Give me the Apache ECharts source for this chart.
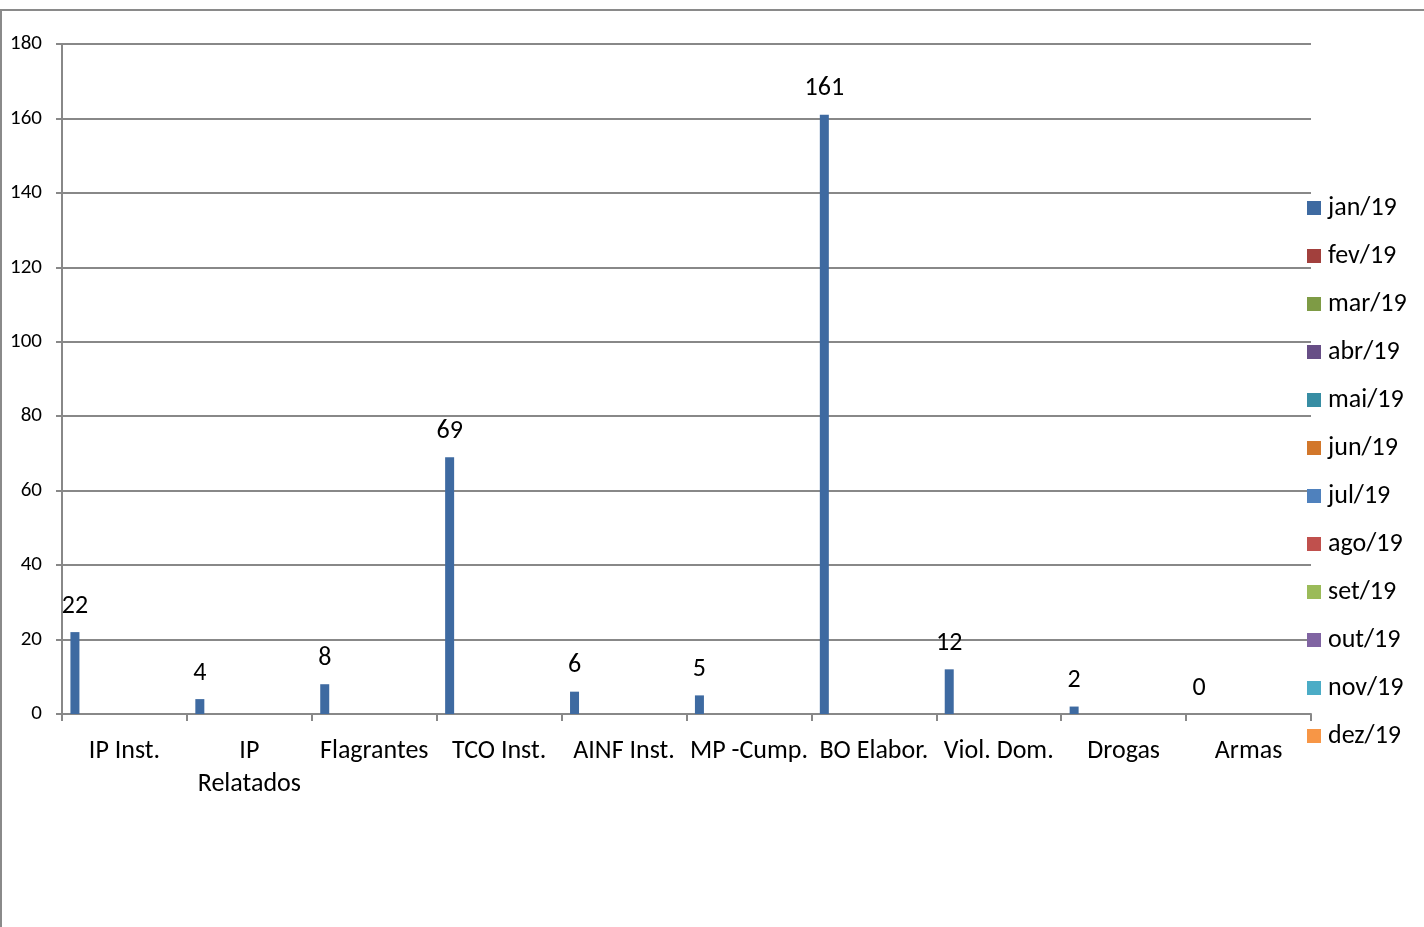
<!DOCTYPE html>
<html>
<head>
<meta charset="utf-8">
<script src="https://cdn.jsdelivr.net/npm/echarts@6/dist/echarts.min.js"></script>
<style>
html,body{margin:0;padding:0;background:#fff;}
#c{width:1424px;height:927px;}
</style>
</head>
<body>
<div id="c"></div>
<script>
const categories = ['IP Inst.', 'IP\nRelatados', 'Flagrantes', 'TCO Inst.', 'AINF Inst.', 'MP -Cump.', 'BO Elabor.', 'Viol. Dom.', 'Drogas', 'Armas'];
const seriesNames = ['jan/19', 'fev/19', 'mar/19', 'abr/19', 'mai/19', 'jun/19', 'jul/19', 'ago/19', 'set/19', 'out/19', 'nov/19', 'dez/19'];
const jan19 = [22, 4, 8, 69, 6, 5, 161, 12, 2, 0];
const emptySeries = [null, null, null, null, null, null, null, null, null, null];
const yTicks = [0, 20, 40, 60, 80, 100, 120, 140, 160, 180];
const colors = ['#3E6AA1', '#A2403D', '#7E9B45', '#674E86', '#378DA3', '#D2772B',
                '#4F81BD', '#C0504D', '#9BBB59', '#8064A2', '#4BACC6', '#F79646'];

const font = 'Carlito, Lato, "Open Sans", sans-serif';
const chart = echarts.init(document.getElementById('c'), null, {renderer: 'canvas'});

const series = seriesNames.map((name, i) => ({
  name: name,
  type: 'bar',
  data: i === 0 ? jan19 : emptySeries,
  barGap: 0,
  barCategoryGap: '13.5%',
  itemStyle: {color: colors[i]},
  label: i === 0 ? {
    show: true, position: 'top', distance: 13,
    color: '#000', fontSize: 26, fontFamily: font
  } : {show: false}
}));

chart.setOption({
  animation: false,
  color: colors,
  graphic: [{
    type: 'rect', shape: {x: 1, y: 10, width: 1500, height: 1000},
    style: {fill: 'none', stroke: '#8a8a8a', lineWidth: 2}, z: -1
  }],
  grid: {left: 62, right: 113, top: 44, bottom: 213, containLabel: false},
  legend: {
    orient: 'vertical', left: 1302, top: 190,
    itemWidth: 14, itemHeight: 14, itemGap: 22, icon: 'rect',
    textStyle: {fontSize: 26, lineHeight: 26, fontFamily: font, color: '#000', padding: [0, 0, 0, 2]},
    data: seriesNames
  },
  xAxis: {
    type: 'category', data: categories,
    axisLine: {lineStyle: {color: '#888', width: 2}},
    axisTick: {show: true, length: 7, lineStyle: {color: '#888', width: 2}},
    axisLabel: {fontSize: 26, fontFamily: font, color: '#000', margin: 21, interval: 0, lineHeight: 33}
  },
  yAxis: {
    type: 'value', min: 0, max: 180, interval: 20,
    axisLine: {show: true, lineStyle: {color: '#888', width: 2}},
    axisTick: {show: true, length: 6, lineStyle: {color: '#888', width: 2}},
    splitLine: {lineStyle: {color: '#888', width: 2}},
    axisLabel: {fontSize: 21, fontFamily: font, color: '#000', margin: 20,
      formatter: v => yTicks.includes(v) ? String(v) : ''}
  },
  series: series
});
</script>
</body>
</html>
